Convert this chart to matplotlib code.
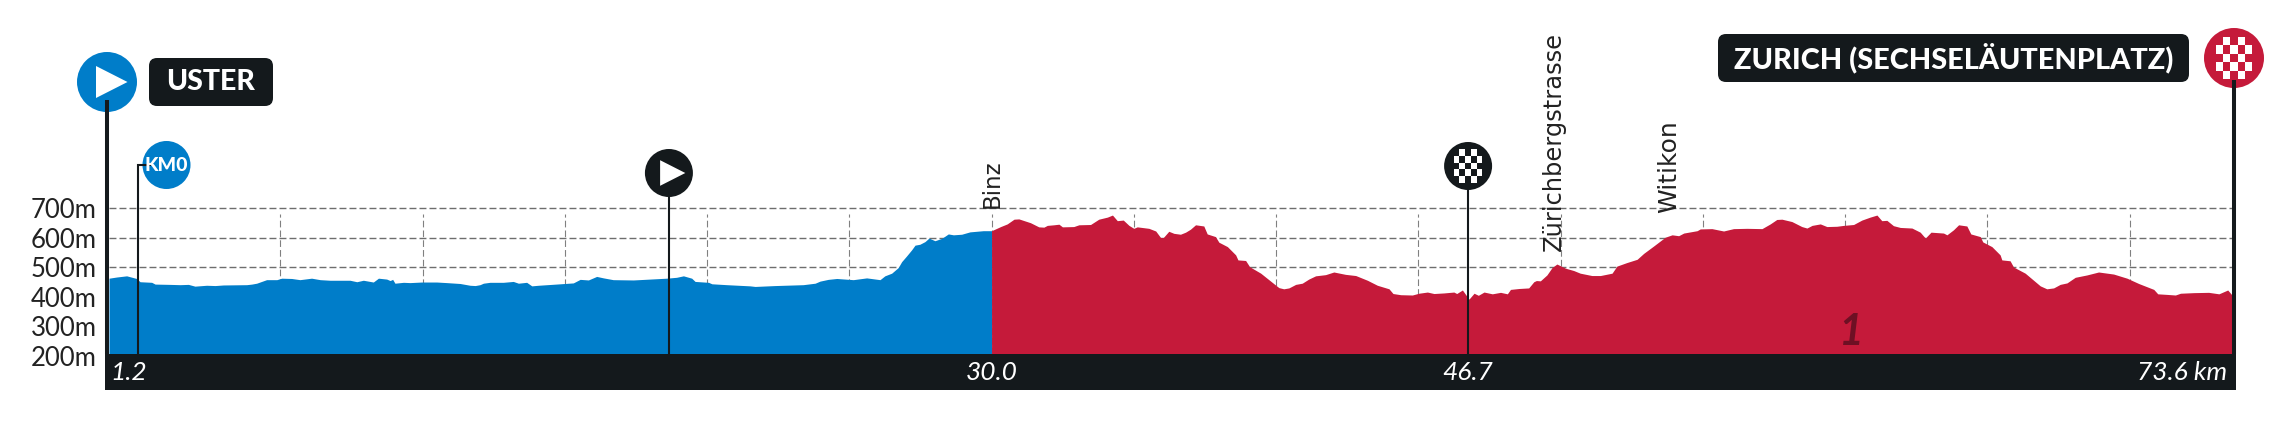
import matplotlib
matplotlib.use('Agg')
import matplotlib.pyplot as plt
import matplotlib.patches as patches

plt.rcParams['font.family'] = ['Lato', 'DejaVu Sans']

BLUE = '#007DC9'
RED = '#C51A3A'
DARK = '#14191C'
GRID = '#6E6E6E'
DARK_RED = '#6E1024'

# profile, km from start / metres
blue_km = [-1.02, -0.75, -0.40, -0.05, 0.07, 0.48, 0.60, 1.12, 1.48, 1.77, 2.00, 2.41, 2.71, 3.00, 3.82, 4.00,
           4.17, 4.52, 4.88, 5.05, 5.40, 5.69, 6.10, 6.40, 6.75, 7.45, 7.69, 7.92, 8.27, 8.45, 8.74, 8.86,
           8.95, 9.03, 9.33, 9.56, 9.97, 10.50, 10.85, 11.32, 11.67, 11.85, 12.02, 12.14, 12.37, 12.84, 13.19, 13.37,
           13.66, 13.84, 14.07, 14.54, 15.00, 15.30, 15.54, 15.83, 16.12, 16.36, 16.70, 17.41, 18.58, 18.93, 19.17, 19.46,
           19.58, 20.05, 20.17, 20.69, 21.51, 21.69, 22.39, 23.38, 23.80, 23.97, 24.26, 24.56, 25.14, 25.61, 26.08, 26.25,
           26.49, 26.72, 26.84, 27.01, 27.19, 27.31, 27.48, 27.66, 27.80, 28.01, 28.25, 28.48, 28.66, 28.95, 29.24, 29.71,
           30.00]
blue_elev = [463, 467, 471, 462, 451, 449, 443, 442, 441, 442, 436, 439, 438, 440, 441, 443,
             446, 458, 458, 463, 462, 458, 463, 458, 456, 456, 451, 456, 450, 463, 460, 455,
             459, 446, 449, 448, 450, 450, 448, 445, 439, 438, 441, 446, 449, 449, 452, 446,
             449, 437, 439, 442, 445, 447, 459, 457, 469, 464, 458, 457, 463, 466, 471, 463,
             452, 449, 444, 441, 437, 435, 438, 441, 446, 453, 459, 462, 458, 464, 458, 471,
             480, 499, 519, 538, 559, 575, 578, 587, 599, 590, 598, 613, 610, 612, 620, 624,
             624]

red_km = [30.00, 30.32, 30.55, 30.79, 30.96, 31.37, 31.66, 31.84, 31.96, 32.19, 32.37, 32.49, 32.89, 33.07, 33.48, 33.77,
          34.07, 34.25, 34.42, 34.63, 34.83, 35.00, 35.12, 35.53, 35.77, 35.94, 36.04, 36.23, 36.41, 36.64, 36.82, 36.99,
          37.17, 37.46, 37.58, 37.87, 37.99, 38.29, 38.58, 38.66, 38.93, 39.07, 39.46, 39.98, 40.10, 40.27, 40.45, 40.69,
          40.92, 41.15, 41.39, 41.74, 42.03, 42.44, 42.80, 43.21, 43.56, 43.97, 44.11, 44.38, 44.79, 45.02, 45.32, 45.55,
          45.90, 46.25, 46.35, 46.55, 46.78, 46.96, 47.11, 47.31, 47.60, 47.89, 48.13, 48.24, 48.53, 48.88, 49.06, 49.15,
          49.29, 49.52, 49.70, 49.87, 50.17, 50.46, 50.69, 51.10, 51.40, 51.81, 51.98, 52.33, 52.69, 52.92, 53.27, 53.68,
          53.92, 54.15, 54.33, 54.80, 54.91, 55.32, 55.73, 56.08, 56.55, 57.08, 57.37, 57.60, 57.78, 58.13, 58.48, 58.66,
          58.84, 59.13, 59.36, 59.71, 59.95, 60.30, 60.59, 60.88, 61.12, 61.29, 61.47, 61.70, 61.94, 62.35, 62.64, 62.82,
          63.02, 63.46, 63.58, 63.81, 63.99, 64.28, 64.42, 64.75, 64.84, 65.16, 65.45, 65.51, 65.80, 65.92, 66.33, 66.86,
          67.09, 67.33, 67.56, 67.80, 68.09, 68.50, 68.91, 69.44, 69.91, 70.32, 70.85, 70.99, 71.32, 71.61, 71.79, 72.26,
          72.78, 73.14, 73.45, 73.60]
red_elev = [624, 638, 647, 663, 664, 651, 637, 636, 642, 644, 646, 637, 638, 644, 645, 663,
            670, 677, 658, 660, 642, 632, 637, 632, 623, 601, 601, 622, 615, 612, 619, 629,
            644, 640, 613, 604, 585, 570, 542, 525, 523, 502, 480, 440, 431, 427, 430, 442,
            446, 460, 471, 475, 484, 476, 472, 456, 439, 427, 411, 407, 406, 412, 416, 411,
            413, 416, 411, 423, 392, 412, 405, 416, 410, 415, 410, 425, 428, 430, 451, 455,
            454, 474, 499, 511, 497, 489, 480, 472, 472, 480, 504, 516, 527, 547, 572, 602,
            610, 607, 616, 624, 630, 631, 623, 631, 632, 631, 647, 662, 663, 655, 638, 633,
            642, 647, 638, 639, 642, 645, 660, 670, 677, 658, 659, 641, 635, 633, 619, 599,
            619, 616, 610, 627, 644, 640, 613, 604, 586, 570, 542, 525, 522, 501, 480, 437,
            427, 430, 442, 447, 466, 474, 484, 477, 463, 445, 425, 410, 408, 406, 412, 414,
            415, 410, 423, 406]

elev_ticks = [200, 300, 400, 500, 600, 700]
elev_labels = ['200m', '300m', '400m', '500m', '600m', '700m']
grid_elev = [500, 600, 700]
grid_km = [5, 10, 15, 20, 25, 30, 35, 40, 45, 50, 55, 60, 65, 70]

km_marks = [-0.98, 30.0, 46.75, 73.42]
km_texts = ['1.2', '30.0', '46.7', '73.6 km']
km_aligns = ['left', 'center', 'center', 'right']

place_km = [30.03, 49.76, 53.8]
place_names = ['Binz', 'Zürichbergstrasse', 'Witikon']
place_bottom = [208, 251, 213]
place_size = [16.5, 17.4, 18]

KM_ZERO = 0.0
KM_SPRINT = 18.66
KM_FEED = 46.75

fig = plt.figure(figsize=(22.72, 4.4), dpi=100)
ax = fig.add_axes([109 / 2272, 50 / 440, 2123 / 2272, 390 / 440])
ax.set_xlim(-1.02, 73.6)
ax.set_ylim(84, 84 + 390 / 0.295)
BASE = 206

for s in ax.spines.values():
    s.set_visible(False)
ax.set_xticks([])
ax.set_yticks(elev_ticks)
ax.set_yticklabels(elev_labels, fontsize=18.5, color='#222222')
ax.tick_params(axis='y', length=0, pad=9)
ax.patch.set_alpha(0)

ax.hlines(grid_elev, -1.02, 73.6, color=GRID, lw=1, linestyle=(0, (5, 2.2)), zorder=1)
ax.vlines(grid_km, BASE, 681, color='#808080', lw=0.8, linestyle=(0, (6, 2.8)), zorder=1)

ax.fill_between(blue_km, blue_elev, BASE, color=BLUE, lw=0, zorder=2)
ax.fill_between(red_km, red_elev, BASE, color=RED, lw=0, zorder=2)

# black band under the profile
ax.add_patch(patches.Rectangle((-1.16, 84), 74.9, BASE - 84, color=DARK, lw=0, clip_on=False, zorder=3))

# overlay in pixels for the icons and the name boxes
deco = fig.add_axes([0, 0, 1, 1])
deco.set_xlim(0, 2272)
deco.set_ylim(440, 0)
deco.axis('off')


def km_x(km):
    return ax.transData.transform((km, 0))[0]


def add_play(cx, cy, r, color):
    deco.add_patch(plt.Circle((cx, cy), r, color=color, lw=0))
    s = r / 30
    tri = [(cx - 11 * s, cy - 16 * s), (cx + 20.5 * s, cy), (cx - 11 * s, cy + 16 * s)]
    deco.add_patch(plt.Polygon(tri, closed=True, color='white', lw=0))


def add_checker(cx, cy, r, color):
    deco.add_patch(plt.Circle((cx, cy), r, color=color, lw=0))
    s = r / 30
    w = 7.2 * s
    h = 8.5 * s
    for row in range(5):
        for col in range(5):
            if (row + col) % 2 == 1:
                x0 = cx - 2.5 * w + col * w
                y0 = cy - 2.5 * h + row * h
                deco.add_patch(patches.Rectangle((x0, y0), w, h, color='white', lw=0))


def add_box(x0, y0, x1, y1, name, size):
    deco.add_patch(patches.FancyBboxPatch((x0 + 8, y0 + 8), x1 - x0 - 16, y1 - y0 - 16,
                                          boxstyle='round,pad=8,rounding_size=8', color=DARK, lw=0))
    deco.text((x0 + x1) / 2, (y0 + y1) / 2 + 0.5, name, color='white', fontsize=size,
              fontweight='black', ha='center', va='center')


# start and finish poles
deco.plot([107, 107], [100, 354], color=DARK, lw=2.9, solid_capstyle='butt')
deco.plot([2234, 2234], [80, 354], color=DARK, lw=2.9, solid_capstyle='butt')
add_play(107, 82, 30, BLUE)
add_checker(2234, 58, 30, RED)
add_box(149, 58, 273, 106, 'USTER', 20.5)
add_box(1718, 34, 2189, 82, 'ZURICH (SECHSELÄUTENPLATZ)', 20.8)

# km 0 flag
x0 = km_x(KM_ZERO)
deco.plot([x0 + 12, x0, x0], [165, 165, 354], color=DARK, lw=1.5, solid_joinstyle='miter')
deco.add_patch(plt.Circle((166.5, 165), 24, color=BLUE, lw=0))
deco.text(166.5, 165.5, 'KM0', color='white', fontsize=14, fontweight='black', ha='center', va='center')

# sprint and feed poles
x1 = km_x(KM_SPRINT)
deco.plot([x1, x1], [190, 354], color=DARK, lw=1.5)
add_play(x1, 173, 24, DARK)
x2 = km_x(KM_FEED)
deco.plot([x2, x2], [180, 354], color=DARK, lw=1.5)
add_checker(x2, 166, 24, DARK)

for km, name, bottom, size in zip(place_km, place_names, place_bottom, place_size):
    deco.text(km_x(km), bottom, name, rotation=90, ha='center', va='bottom', fontsize=size,
              family='DejaVu Sans', color='#222222')

for km, label, align in zip(km_marks, km_texts, km_aligns):
    deco.text(km_x(km), 372.5, label, color='white', fontsize=19, style='italic',
              ha=align, va='center')

deco.text(1851, 332, '1', color=DARK_RED, fontsize=31, style='italic', fontweight='bold',
          ha='center', va='center')

fig.savefig('out.png', dpi=100)
